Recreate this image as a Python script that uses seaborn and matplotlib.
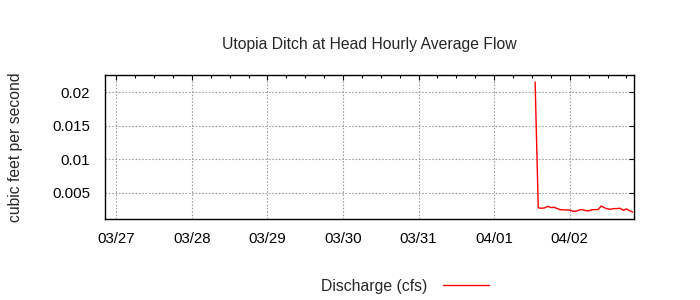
import matplotlib
matplotlib.use("Agg")
import matplotlib.pyplot as plt
import matplotlib.dates as mdates
import seaborn as sns
import pandas as pd

# ---- data ----
start_time = "2024-04-01 13:00"
discharge_cfs = [
    0.0215, 0.00277, 0.00272, 0.00277, 0.00300, 0.00282, 0.00287, 0.00267,
    0.00252, 0.00247, 0.00247, 0.00245, 0.00227, 0.00227, 0.00247, 0.00252,
    0.00237, 0.00232, 0.00250, 0.00252, 0.00252, 0.00305, 0.00280, 0.00262,
    0.00257, 0.00267, 0.00267, 0.00272, 0.00240, 0.00262, 0.00237, 0.00215,
]
times = pd.date_range(start_time, periods=len(discharge_cfs), freq="h")
x_range = ("2024-03-26 20:30", "2024-04-02 20:30")
y_range = (0.00112, 0.02254)
y_ticks = [0.005, 0.01, 0.015, 0.02]
y_tick_labels = ["0.005", "0.01", "0.015", "0.02"]
title = "Utopia Ditch at Head Hourly Average Flow"
y_label = "cubic feet per second"
series_label = "Discharge (cfs)"

df = pd.DataFrame({"time": times, "value": discharge_cfs})

sns.set_style("white")
plt.rcParams["font.family"] = ["Liberation Sans", "DejaVu Sans"]
FS = 11.3
TFS = 10.8

fig = plt.figure(figsize=(7, 3), dpi=100)
ax = fig.add_axes([105.3 / 700, 1 - 219 / 300, 529 / 700, 144 / 300])

sns.lineplot(data=df, x="time", y="value", ax=ax, color="#ff0000",
             linewidth=1.0, label=series_label)

ax.set_xlim(pd.Timestamp(x_range[0]), pd.Timestamp(x_range[1]))
ax.set_ylim(*y_range)
ax.set_yticks(y_ticks)
ax.set_yticklabels(y_tick_labels)

ax.xaxis.set_major_locator(mdates.DayLocator())
ax.xaxis.set_major_formatter(mdates.DateFormatter("%m/%d"))
ax.xaxis.set_minor_locator(mdates.HourLocator(byhour=[6, 12, 18]))

for s in ax.spines.values():
    s.set_color("black")
    s.set_linewidth(1.0)

ax.tick_params(axis="both", which="both", direction="in", top=True, right=True,
               colors="black", labelsize=TFS)
ax.tick_params(axis="both", which="major", length=3.5, width=0.8)
ax.tick_params(axis="both", which="minor", length=2.0, width=0.8)
ax.tick_params(axis="x", which="major", pad=9.5)
ax.tick_params(axis="y", which="major", pad=11)

ax.grid(True, which="major", color="#a0a0a0", linestyle=(0, (1.5, 1.5)),
        linewidth=0.8)

ax.set_xlabel("")
ax.set_ylabel(y_label, fontsize=FS)
ax.yaxis.set_label_coords((23 - 105.3) / 529, 0.5)
ax.set_title(title, fontsize=FS, y=(219 - 45) / 144, va="center", pad=0)

ax.legend(loc="center", bbox_to_anchor=(405 / 700, 1 - 286 / 300),
          bbox_transform=fig.transFigure, frameon=False, markerfirst=False,
          fontsize=FS, handlelength=2.9, handletextpad=1.0)

fig.savefig("out.png", dpi=100, facecolor="white")
